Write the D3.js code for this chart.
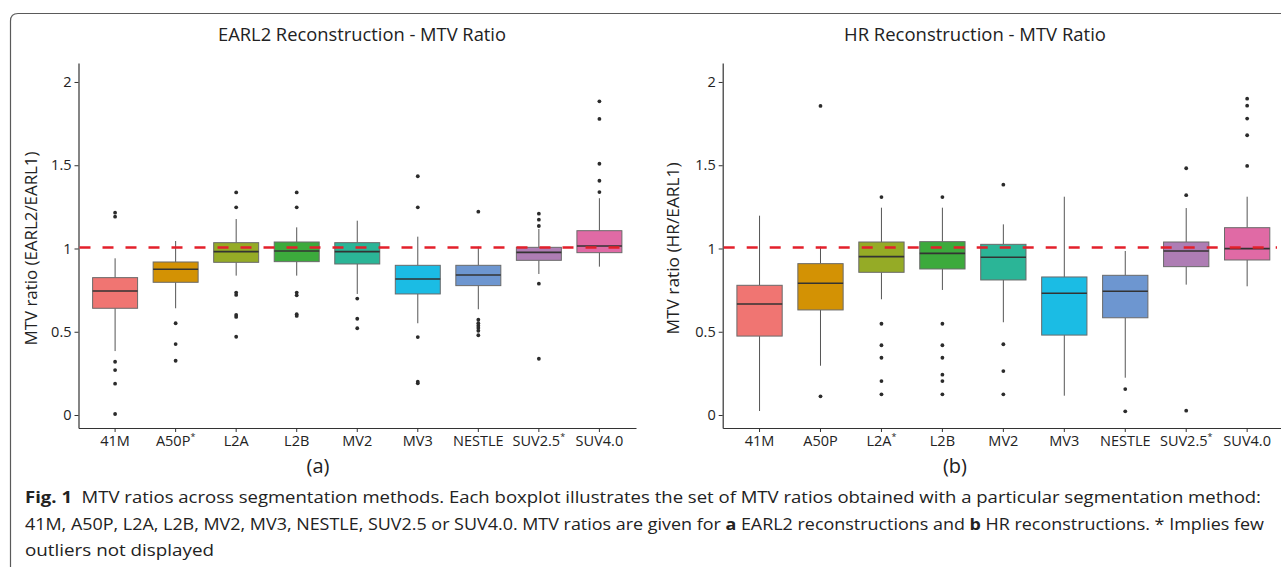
<!DOCTYPE html>
<html>
<head>
<meta charset="utf-8">
<script src="https://cdn.jsdelivr.net/npm/d3@7"></script>
<style>
  body { margin: 0; background: #fff; }
  svg { display: block; font-family: "Open Sans", sans-serif; }
</style>
</head>
<body>
<svg id="chart"></svg>
<script>
const methods = ["41M", "A50P", "L2A", "L2B", "MV2", "MV3", "NESTLE", "SUV2.5", "SUV4.0"];
const yTicks = [0, 0.5, 1, 1.5, 2];
const colors = ["#F07572", "#D39204", "#95AB26", "#3CAA3C", "#2BB597", "#1BBCE4", "#6D96D0", "#AE7DB4", "#E06AA5"];

// EARL2 / EARL1
const earl2Starred = ["A50P", "SUV2.5"];
const earl2Low = [0.384, 0.641, 0.837, 0.837, 0.727, 0.551, 0.635, 0.847, 0.891];
const earl2Q1 = [0.641, 0.797, 0.917, 0.921, 0.907, 0.727, 0.777, 0.929, 0.975];
const earl2Median = [0.745, 0.875, 0.981, 0.985, 0.981, 0.817, 0.841, 0.977, 1.015];
const earl2Q3 = [0.825, 0.919, 1.035, 1.039, 1.035, 0.899, 0.899, 1.007, 1.107];
const earl2High = [0.941, 1.045, 1.177, 1.127, 1.167, 1.071, 1.011, 1.117, 1.302];
const earl2Outliers = [
  [1.215, 1.191, 0.32, 0.27, 0.188, 0.006],
  [0.551, 0.426, 0.326],
  [1.337, 1.247, 0.735, 0.721, 0.601, 0.589, 0.47],
  [1.337, 1.247, 0.735, 0.719, 0.605, 0.595],
  [0.699, 0.578, 0.521],
  [1.434, 1.247, 0.468, 0.2, 0.19],
  [1.221, 0.572, 0.551, 0.536, 0.523, 0.506, 0.479],
  [1.209, 1.173, 1.135, 0.789, 0.338],
  [1.884, 1.778, 1.509, 1.407, 1.339]
];

// HR / EARL1
const hrStarred = ["L2A", "SUV2.5"];
const hrLow = [0.024, 0.296, 0.695, 0.751, 0.557, 0.116, 0.224, 0.783, 0.773];
const hrQ1 = [0.474, 0.631, 0.857, 0.877, 0.811, 0.480, 0.584, 0.891, 0.931];
const hrMedian = [0.667, 0.791, 0.951, 0.971, 0.947, 0.731, 0.743, 0.985, 0.999];
const hrQ3 = [0.779, 0.909, 1.039, 1.041, 1.025, 0.829, 0.839, 1.039, 1.125];
const hrHigh = [1.197, 1.011, 1.245, 1.245, 1.145, 1.311, 0.985, 1.243, 1.311];
const hrOutliers = [
  [],
  [1.856, 0.112],
  [1.309, 0.548, 0.419, 0.344, 0.204, 0.124],
  [1.309, 0.548, 0.419, 0.344, 0.242, 0.204, 0.124],
  [1.383, 0.425, 0.264, 0.124],
  [],
  [0.156, 0.022],
  [1.482, 1.32, 0.026],
  [1.9, 1.858, 1.78, 1.68, 1.496]
];

const refValue = 1;

const width = 1281;
const height = 567;

const svg = d3.select("#chart")
    .attr("width", width)
    .attr("height", height);

svg.append("rect").attr("width", width).attr("height", height).attr("fill", "#fff");

// figure frame
svg.append("path")
    .attr("d", `M10.5,${height} L10.5,21 Q10.5,13.5 18,13.5 L${width},13.5`)
    .attr("fill", "none")
    .attr("stroke", "#5a5a5a")
    .attr("stroke-width", 1.2);

const y = d3.scaleLinear()
    .domain([-0.078, 2.114])
    .range([428, 63]);

function drawPanel(p) {
    const x = d3.scaleBand()
        .domain(methods)
        .range(p.xRange)
        .paddingInner(0.257)
        .paddingOuter(0.233);

    const g = svg.append("g");

    g.append("text")
        .attr("x", p.titleX)
        .attr("y", 41)
        .attr("text-anchor", "middle")
        .attr("font-size", 17.5)
        .attr("fill", "#222")
        .attr("textLength", p.titleLen)
        .attr("lengthAdjust", "spacingAndGlyphs")
        .text(p.title);

    const yAxis = g.append("g")
        .attr("transform", `translate(${p.xRange[0]},0)`)
        .call(d3.axisLeft(y).tickValues(yTicks).tickFormat(d3.format("~g")).tickSize(4).tickSizeOuter(0));

    const xAxis = g.append("g")
        .attr("transform", `translate(0,${y.range()[0]})`)
        .call(d3.axisBottom(x).tickSize(4).tickSizeOuter(0).tickFormat(""));

    [yAxis, xAxis].forEach(a => {
        a.select(".domain").attr("stroke", "#333").attr("stroke-width", 1.2);
        a.selectAll(".tick line").attr("stroke", "#333");
        a.selectAll(".tick text").attr("font-size", 14.5).attr("fill", "#222")
            .attr("font-family", "Open Sans, sans-serif");
    });
    yAxis.selectAll(".tick text").attr("x", -7);

    // category labels with asterisks
    methods.forEach(m => {
        const t = g.append("text")
            .attr("x", x(m) + x.bandwidth() / 2)
            .attr("y", 446)
            .attr("text-anchor", "middle")
            .attr("font-size", 14.5)
            .attr("fill", "#222")
            .text(m);
        if (p.starred.includes(m)) {
            t.append("tspan")
                .attr("font-size", 9)
                .attr("dy", -6)
                .text("*");
        }
    });

    g.append("text")
        .attr("transform", `translate(${p.yLabelX},${y(1)}) rotate(-90)`)
        .attr("text-anchor", "middle")
        .attr("font-size", 15.5)
        .attr("fill", "#222")
        .attr("textLength", p.yLabelLen)
        .attr("lengthAdjust", "spacingAndGlyphs")
        .text(p.yLabel);

    g.append("text")
        .attr("x", p.tagX)
        .attr("y", 473)
        .attr("text-anchor", "middle")
        .attr("font-size", 20)
        .attr("fill", "#222")
        .text(p.tag);

    const rows = methods.map((m, i) => ({
        m, i,
        low: p.low[i], q1: p.q1[i], med: p.median[i], q3: p.q3[i], high: p.high[i],
        out: p.outliers[i]
    }));

    const box = g.selectAll(".box").data(rows).enter().append("g").attr("class", "box");
    const cx = d => x(d.m) + x.bandwidth() / 2;

    box.append("line")
        .attr("x1", cx).attr("x2", cx)
        .attr("y1", d => y(d.high)).attr("y2", d => y(d.q3))
        .attr("stroke", "#555").attr("stroke-width", 1);
    box.append("line")
        .attr("x1", cx).attr("x2", cx)
        .attr("y1", d => y(d.q1)).attr("y2", d => y(d.low))
        .attr("stroke", "#555").attr("stroke-width", 1);
    box.append("rect")
        .attr("x", d => x(d.m))
        .attr("width", x.bandwidth())
        .attr("y", d => y(d.q3))
        .attr("height", d => y(d.q1) - y(d.q3))
        .attr("fill", d => colors[d.i])
        .attr("stroke", "#6a6a6a")
        .attr("stroke-width", 1);
    box.append("line")
        .attr("x1", d => x(d.m)).attr("x2", d => x(d.m) + x.bandwidth())
        .attr("y1", d => y(d.med)).attr("y2", d => y(d.med))
        .attr("stroke", "#333").attr("stroke-width", 1.6);
    box.selectAll("circle").data(d => d.out.map(v => ({ m: d.m, v }))).enter()
        .append("circle")
        .attr("cx", cx)
        .attr("cy", d => y(d.v))
        .attr("r", 1.9)
        .attr("fill", "#2b2b2b");

    g.append("line")
        .attr("x1", p.xRange[0] + 1)
        .attr("x2", p.refEnd)
        .attr("y1", y(refValue) - 1).attr("y2", y(refValue) - 1)
        .attr("stroke", "#E3202B")
        .attr("stroke-width", 2.5)
        .attr("stroke-dasharray", "11,12");
}

drawPanel({
    title: "EARL2 Reconstruction - MTV Ratio", titleX: 362, titleLen: 288,
    yLabel: "MTV ratio (EARL2/EARL1)", yLabelX: 37, yLabelLen: 194,
    tag: "(a)", tagX: 318,
    xRange: [78.5, 636], refEnd: 626,
    starred: earl2Starred,
    low: earl2Low, q1: earl2Q1, median: earl2Median, q3: earl2Q3, high: earl2High, outliers: earl2Outliers
});

drawPanel({
    title: "HR Reconstruction - MTV Ratio", titleX: 975, titleLen: 262,
    yLabel: "MTV ratio (HR/EARL1)", yLabelX: 679, yLabelLen: 172,
    tag: "(b)", tagX: 955,
    xRange: [722.7, 1284], refEnd: 1277,
    starred: hrStarred,
    low: hrLow, q1: hrQ1, median: hrMedian, q3: hrQ3, high: hrHigh, outliers: hrOutliers
});

// caption
const captionLines = [
    { parts: [["Fig. 1", true], ["  MTV ratios across segmentation methods. Each boxplot illustrates the set of MTV ratios obtained with a particular segmentation method:", false]], len: 1236 },
    { parts: [["41M, A50P, L2A, L2B, MV2, MV3, NESTLE, SUV2.5 or SUV4.0. MTV ratios are given for ", false], ["a", true], [" EARL2 reconstructions and ", false], ["b", true], [" HR reconstructions. * Implies few", false]], len: 1239 },
    { parts: [["outliers not displayed", false]], len: 189 }
];

captionLines.forEach((line, i) => {
    const t = svg.append("text")
        .attr("x", 25)
        .attr("y", 503 + i * 26.5)
        .attr("font-size", 16.5)
        .attr("fill", "#222")
        .attr("textLength", line.len)
        .attr("lengthAdjust", "spacingAndGlyphs")
        .attr("xml:space", "preserve");
    line.parts.forEach(([s, bold]) => {
        t.append("tspan").attr("font-weight", bold ? 700 : 400).text(s);
    });
});
</script>
</body>
</html>
